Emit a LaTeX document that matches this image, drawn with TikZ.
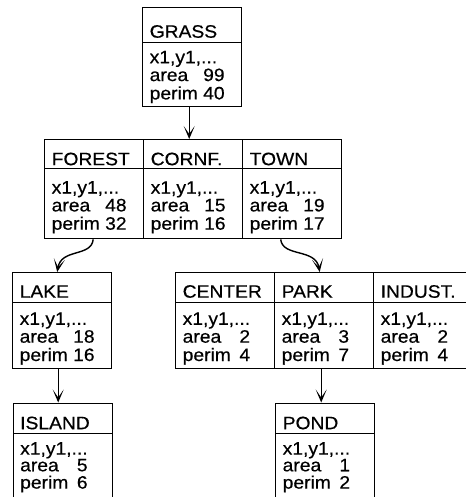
\documentclass[tikz,border=0pt]{standalone}
\usepackage{fontspec}
\setmainfont{Liberation Sans}[FakeStretch=1.07,FakeBold=0.5]
\usetikzlibrary{arrows.meta}

% header text of one record cell, left aligned in the cell
\newcommand\recname[1]{\makebox[85pt][l]{#1}}
% body text of one record cell: coordinates, area, perimeter
\newcommand\recdata[2]{\makebox[85pt][l]{\begin{tabular}[b]{@{}l@{\ }r@{}}\multicolumn{2}{@{}l@{}}{x1,y1,...}\\ area & #1\\ perim & #2\end{tabular}}}

\tikzset{
  cell/.style 2 args={draw, line width=1.4pt, anchor=north west, inner xsep=7pt, inner ysep=0pt,
    text height=#1, text depth=#2, font=\fontsize{18}{17.6}\selectfont},
  tight/.style={font=\fontsize{18}{17.6}\selectfont\renewcommand\arraystretch{0.81}},
  arr/.style={line width=1.4pt, -{Stealth[length=13pt,width=11pt,inset=8pt]}},
}

\begin{document}
\begin{tikzpicture}[x=1pt,y=-1pt]
\useasboundingbox (0,0) rectangle (465,497);

% root
\node[cell={30pt}{5pt}]     (gH) at (142,7)  {\recname{GRASS}};
\node[cell={56.7pt}{7.3pt}] (gB) at (142,42) {\recdata{99}{40}};

% first level
\node[cell={25.5pt}{3.5pt}] (foH) at (44,139)  {\recname{FOREST}};
\node[cell={61pt}{9pt}]     (foB) at (44,168)  {\recdata{48}{32}};
\node[cell={25.5pt}{3.5pt}] (cfH) at (143,139) {\recname{CORNF.}};
\node[cell={61pt}{9pt}]     (cfB) at (143,168) {\recdata{15}{16}};
\node[cell={25.5pt}{3.5pt}] (toH) at (242,139) {\recname{TOWN}};
\node[cell={61pt}{9pt}]     (toB) at (242,168) {\recdata{19}{17}};

% second level
\node[cell={25pt}{5pt}]     (laH) at (12,272)  {\recname{LAKE}};
\node[cell={58.3pt}{7.7pt}] (laB) at (12,302)  {\recdata{18}{16}};
\node[cell={25pt}{5pt}]     (ceH) at (175,272) {\recname{CENTER}};
\node[cell={58.3pt}{7.7pt}] (ceB) at (175,302) {\recdata{2}{4}};
\node[cell={25pt}{5pt}]     (paH) at (274,272) {\recname{PARK}};
\node[cell={58.3pt}{7.7pt}] (paB) at (274,302) {\recdata{3}{7}};
\node[cell={25pt}{5pt}]     (inH) at (373,272) {\recname{INDUST.}};
\node[cell={58.3pt}{7.7pt}] (inB) at (373,302) {\recdata{2}{4}};

% third level, running off the bottom edge
\node[cell={26pt}{4pt}]            (isH) at (12.5,402.5) {\recname{ISLAND}};
\node[cell={55.4pt}{15.6pt},tight] (isB) at (12.5,432.5) {\recdata{5}{6}};
\node[cell={26pt}{4pt}]            (poH) at (275,402.5)  {\recname{POND}};
\node[cell={55.4pt}{15.6pt},tight] (poB) at (275,432.5)  {\recdata{1}{2}};

% links between levels
\draw[arr] ([xshift=-3pt]gB.south) -- ([xshift=-3pt]gB.south |- cfH.north);
\draw[arr] ([xshift=-1pt]foB.south) .. controls +(-2,18) and +(4,-24) .. ([xshift=-5pt]laH.north);
\draw[arr] ([xshift=-11.5pt]toB.south) .. controls +(2,18) and +(-4,-24) .. ([xshift=-4.5pt]paH.north);
\draw[arr] ([xshift=-4pt]laB.south) -- ([xshift=-4pt]laB.south |- isH.north);
\draw[arr] ([xshift=-3pt]paB.south) -- ([xshift=-3pt]paB.south |- poH.north);
\end{tikzpicture}
\end{document}
